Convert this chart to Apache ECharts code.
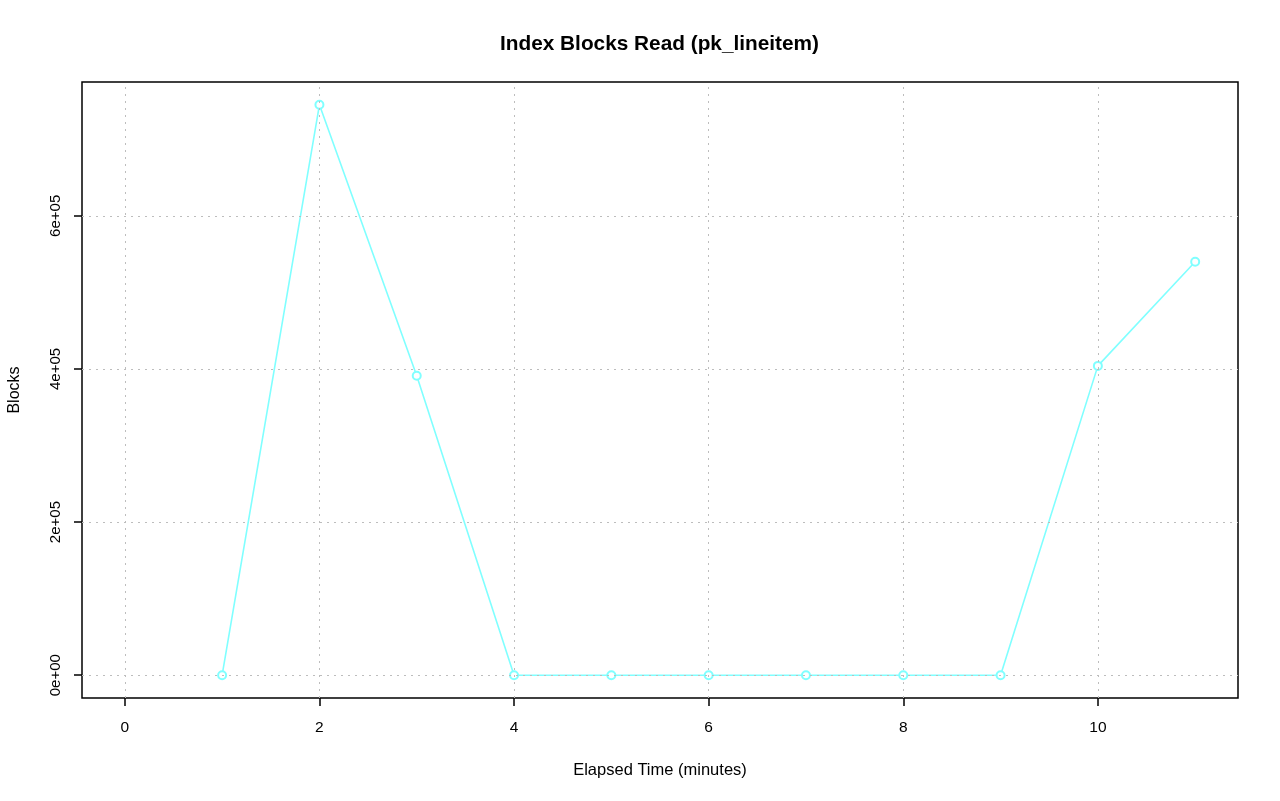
<!DOCTYPE html>
<html>
<head>
<meta charset="utf-8">
<script src="https://cdn.jsdelivr.net/npm/echarts@6/dist/echarts.min.js"></script>
<style>html,body{margin:0;padding:0;background:#fff}#c{width:1280px;height:801px}</style>
</head>
<body>
<div id="c"></div>
<script>
var minutes = [1, 2, 3, 4, 5, 6, 7, 8, 9, 10, 11];
var blocks = [0, 745000, 391000, 0, 0, 0, 0, 0, 0, 404000, 540000];
var xTicks = [0, 2, 4, 6, 8, 10];
var yTicks = [0, 200000, 400000, 600000];
var yTickLabels = ['0e+00', '2e+05', '4e+05', '6e+05'];

var FONT = 'Liberation Sans, Arial, Helvetica, sans-serif';
var chart = echarts.init(document.getElementById('c'), null, {renderer: 'canvas'});
var dataPts = minutes.map(function (m, i) { return [m, blocks[i]]; });
var gridStyle = {color: '#bdbdbd', type: [2, 5], width: 1};

chart.setOption({
  animation: false,
  backgroundColor: '#ffffff',
  title: {
    text: 'Index Blocks Read (pk_lineitem)',
    left: 495, top: 29,
    textStyle: {fontFamily: FONT, fontSize: 20.8, fontWeight: 'bold', color: '#000'}
  },
  grid: {left: 82, right: 42, top: 82, bottom: 103, outerBoundsMode: 'none', containLabel: false,
         show: true, borderColor: '#000', borderWidth: 1.5, backgroundColor: 'transparent'},
  xAxis: {
    type: 'value', min: -0.44, max: 11.44,
    name: 'Elapsed Time (minutes)', nameLocation: 'middle', nameGap: 64,
    nameTextStyle: {fontFamily: FONT, fontSize: 16.5, color: '#000'},
    axisLine: {show: false, onZero: false},
    axisTick: {show: true, length: 8, inside: false, customValues: xTicks, lineStyle: {color: '#000', width: 1.5}},
    axisLabel: {customValues: xTicks, margin: 22, fontFamily: FONT, fontSize: 15.5, color: '#000'},
    splitLine: {show: false}
  },
  yAxis: {
    type: 'value', min: -29800, max: 774800,
    name: 'Blocks', nameLocation: 'middle', nameGap: 59, nameRotate: 90,
    nameTextStyle: {fontFamily: FONT, fontSize: 16, color: '#000'},
    axisLine: {show: false, onZero: false},
    axisTick: {show: true, length: 8, customValues: yTicks, lineStyle: {color: '#000', width: 1.5}},
    axisLabel: {
      customValues: yTicks, rotate: 90, margin: 19, fontFamily: FONT, fontSize: 15, color: '#000',
      formatter: function (v) { var i = yTicks.indexOf(v); return i >= 0 ? yTickLabels[i] : ''; }
    },
    splitLine: {show: false}
  },
  series: [{
    type: 'line',
    data: dataPts,
    symbol: 'emptyCircle', symbolSize: 8,
    lineStyle: {color: '#80ffff', width: 1.6},
    itemStyle: {color: '#80ffff', borderColor: '#80ffff', borderWidth: 1.6},
    markLine: {
      silent: true, symbol: 'none', label: {show: false},
      lineStyle: gridStyle,
      data: xTicks.map(function (v) { return {xAxis: v}; }).concat(yTicks.map(function (v) { return {yAxis: v}; }))
    },
    z: 3
  }]
});
</script>
</body>
</html>
